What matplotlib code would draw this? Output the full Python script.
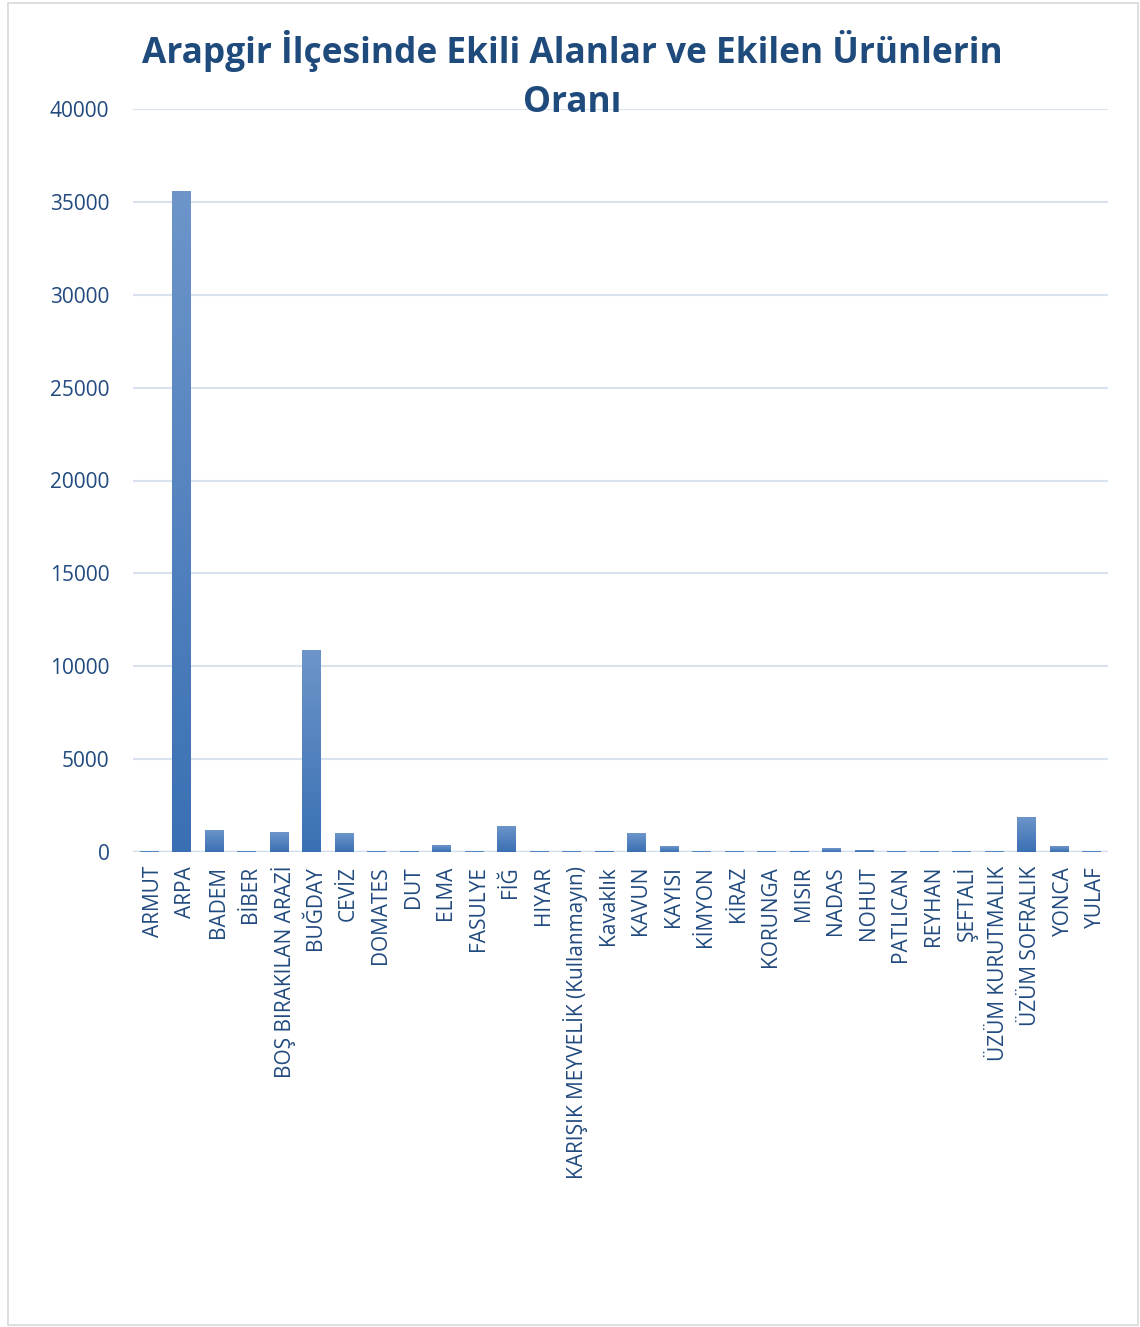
""" Arapgir ekili alanlar bar chart
"""

import numpy as np
import matplotlib
import matplotlib.pyplot as plt
from matplotlib.colors import LinearSegmentedColormap
from matplotlib.patches import Rectangle
from matplotlib.transforms import ScaledTranslation

matplotlib.use("Agg")
plt.rcParams["font.family"] = ["Open Sans", "DejaVu Sans"]
dpi = 100

# data
categories = ["ARMUT", "ARPA", "BADEM", "BİBER", "BOŞ BIRAKILAN ARAZİ", "BUĞDAY",
              "CEVİZ", "DOMATES", "DUT", "ELMA", "FASULYE", "FİĞ", "HIYAR",
              "KARIŞIK MEYVELİK (Kullanmayın)", "Kavaklık", "KAVUN", "KAYISI",
              "KİMYON", "KİRAZ", "KORUNGA", "MISIR", "NADAS", "NOHUT",
              "PATLICAN", "REYHAN", "ŞEFTALİ", "ÜZÜM KURUTMALIK",
              "ÜZÜM SOFRALIK", "YONCA", "YULAF"]
values = [40, 35600, 1200, 35, 1050, 10900, 1000, 40, 40, 350, 35, 1400, 30,
          35, 80, 1000, 300, 35, 35, 35, 80, 190, 130, 30, 30, 35, 40,
          1900, 300, 35]
yticks = [0, 5000, 10000, 15000, 20000, 25000, 30000, 35000, 40000]
title_lines = ["Arapgir İlçesinde Ekili Alanlar ve Ekilen Ürünlerin", "Oranı"]

text_color = "#214a7e"
grid_color = "#d9e3f0"
bar_cmap = LinearSegmentedColormap.from_list("bar", ["#3a70b3", "#6d95ca"])

fig = plt.figure(figsize=(1140 / dpi, 1327 / dpi), dpi=dpi)
ax = fig.add_axes([133 / 1140, 1 - 852 / 1327, 975 / 1140, 743 / 1327])

x = np.arange(len(categories))
bars = ax.bar(x, values, width=0.57, color="none", zorder=3)

# vertical gradient for each bar
grad = np.linspace(0, 1, 256).reshape(-1, 1)
for bar in bars:
    bx, by = bar.get_x(), bar.get_y()
    img = ax.imshow(grad, extent=[bx, bx + bar.get_width(), by, by + bar.get_height()],
                    origin="lower", aspect="auto", cmap=bar_cmap, zorder=3)
    img.set_clip_path(bar)

ax.set_xlim(-0.5, len(categories) - 0.5)
ax.set_ylim(0, 40000)
ax.set_yticks(yticks)
ax.set_yticklabels([str(v) for v in yticks], fontsize=15, color=text_color)
ax.set_xticks(x)
ax.set_xticklabels(categories, rotation=90, fontsize=15, color=text_color)
ax.tick_params(length=0)
ax.tick_params(axis="y", pad=17)
ax.tick_params(axis="x", pad=10)
# nudge category labels a little to the right (after tick_params)
shift = ScaledTranslation(4 / dpi, 0, fig.dpi_scale_trans)
for lbl in ax.get_xticklabels():
    lbl.set_transform(lbl.get_transform() + shift)
ax.grid(axis="y", color=grid_color, linewidth=1.5, zorder=0)
ax.set_axisbelow(True)
for s in ax.spines.values():
    s.set_visible(False)
ax.axhline(0, color="#d0deef", linewidth=2.5, zorder=2)

for i, line in enumerate(title_lines):
    fig.text(572 / 1140, 1 - (51 + 52 * i) / 1327, line,
             ha="center", va="center", fontsize=25.4, fontweight="bold",
             color="#1f4a7c")

# chart border
fig.patches.append(Rectangle((8 / 1140, 2 / 1327), 1130 / 1140, 1322 / 1327,
                             transform=fig.transFigure, fill=False,
                             edgecolor="#d9d9d9", linewidth=1.2))

fig.savefig("out.png", dpi=dpi)
plt.close(fig)
